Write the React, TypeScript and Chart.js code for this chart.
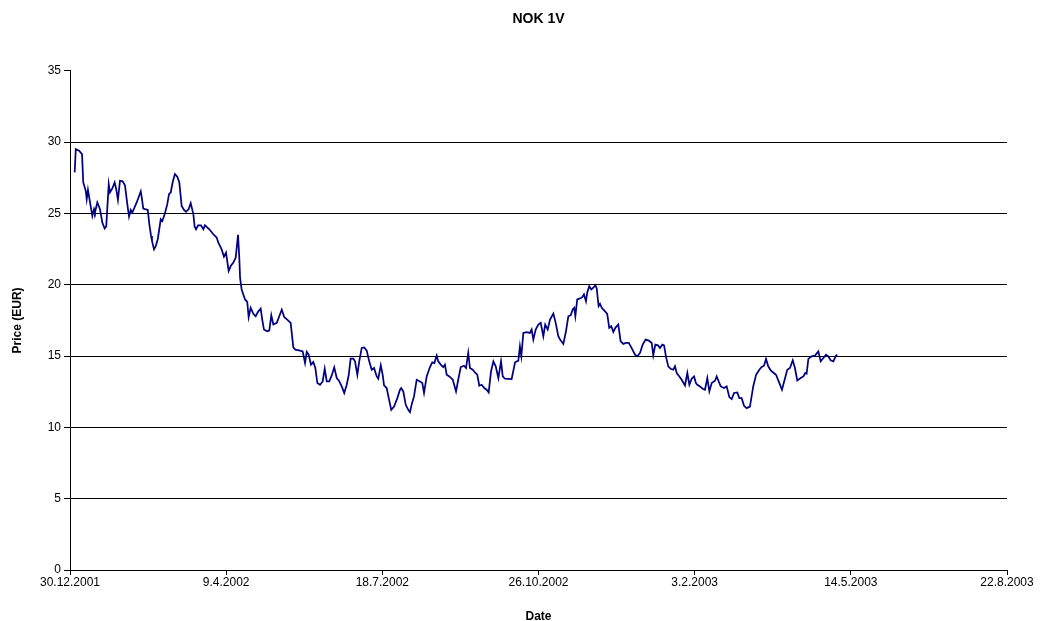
import React, { useEffect, useRef } from "react";
import { Chart, registerables } from "chart.js";

Chart.register(...registerables);

// Days elapsed since 30.12.2001
const dayOffsets = [
  3.0, 3.7, 5.8, 7.7, 8.5, 10.1, 10.7, 11.5, 12.8, 14.3,
  15.4, 16.0, 17.5, 19.2, 20.7, 22.2, 23.2, 24.8, 25.6, 27.1,
  28.6, 29.6, 30.7, 32.0, 33.7, 35.2, 36.7, 37.8, 38.9, 39.9,
  42.7, 45.3, 46.1, 46.9, 49.8, 50.8, 51.9, 52.5, 53.8, 54.9,
  56.2, 58.1, 59.1, 60.8, 62.3, 63.4, 64.5, 65.8, 67.2, 68.7,
  70.0, 71.5, 73.0, 74.3, 76.0, 77.3, 79.0, 79.8, 80.7, 82.0,
  83.9, 85.4, 86.4, 89.2, 91.8, 93.9, 95.0, 97.1, 98.6, 99.9,
  101.6, 102.9, 104.6, 106.1, 107.6, 108.4, 108.9, 109.9, 112.1, 113.5,
  114.4, 115.7, 117.4, 118.9, 120.4, 122.1, 123.1, 124.2, 126.3, 127.6,
  128.9, 130.2, 132.4, 134.0, 135.6, 137.2, 139.1, 141.3, 143.0, 144.3,
  147.3, 149.0, 150.5, 151.6, 152.8, 154.3, 155.8, 157.1, 158.4, 160.1,
  161.8, 163.1, 164.4, 166.0, 167.6, 169.2, 170.8, 172.2, 174.0, 175.6,
  177.2, 178.5, 179.7, 181.4, 182.5, 184.0, 185.2, 186.8, 188.4, 190.0,
  191.6, 193.2, 194.7, 196.4, 197.4, 199.0, 200.2, 201.1, 202.8, 204.1,
  205.7, 207.5, 209.6, 211.3, 212.1, 213.4, 215.0, 216.6, 217.7, 219.0,
  220.3, 222.0, 224.1, 225.6, 226.7, 228.4, 230.5, 232.0, 233.3, 234.8,
  235.8, 237.4, 239.0, 240.1, 241.2, 242.9, 245.1, 247.2, 248.6, 250.2,
  252.3, 253.6, 255.0, 256.1, 257.9, 259.3, 260.8, 262.1, 263.6, 265.3,
  266.8, 268.1, 269.6, 271.1, 272.6, 274.3, 276.0, 277.1, 278.5, 282.8,
  285.0, 287.1, 288.1, 289.0, 290.3, 292.4, 294.5, 295.6, 296.7, 298.2,
  299.9, 301.4, 303.1, 304.3, 305.9, 307.4, 309.5, 311.0, 312.7, 313.8,
  315.9, 317.6, 319.1, 320.6, 321.9, 322.9, 323.6, 324.8, 326.6, 328.0,
  329.1, 330.4, 331.2, 332.5, 333.8, 335.1, 336.4, 337.3, 337.9, 338.5,
  339.4, 340.5, 342.6, 344.0, 345.3, 346.6, 347.9, 349.2, 351.1, 352.6,
  354.3, 356.0, 357.8, 359.4, 361.8, 363.3, 365.0, 366.7, 368.6, 370.6,
  372.5, 373.5, 374.8, 376.5, 377.8, 379.3, 380.4, 381.6, 383.1, 384.6,
  386.3, 387.4, 388.5, 390.2, 391.7, 393.8, 395.3, 396.6, 398.1, 399.6,
  400.8, 401.7, 403.4, 405.1, 406.6, 408.1, 409.4, 410.9, 413.0, 414.1,
  415.8, 416.7, 418.8, 420.5, 422.2, 423.7, 425.2, 427.3, 428.6, 430.1,
  431.6, 433.3, 435.4, 437.5, 439.3, 441.4, 442.9, 444.4, 445.7, 447.1,
  448.7, 450.3, 452.1, 453.8, 455.9, 457.9, 459.3, 461.0, 462.8, 464.2,
  465.7, 467.9, 469.6, 470.8, 471.7, 472.8, 474.9, 477.0, 479.2, 480.7,
  482.4, 484.1, 485.6, 487.1, 488.8, 490.5, 491.3,
];

// Price (EUR)
const prices = [
  27.88, 29.51, 29.40, 29.16, 27.17, 26.58, 26.00, 26.65, 25.79, 24.82,
  25.30, 25.08, 25.77, 25.30, 24.36, 23.94, 24.08, 27.05, 26.47, 26.75,
  27.17, 26.70, 25.95, 27.29, 27.26, 26.98, 25.65, 24.78, 25.25, 25.06,
  25.77, 26.54, 26.00, 25.34, 25.25, 24.24, 23.42, 23.07, 22.48, 22.71,
  23.19, 24.59, 24.47, 25.01, 25.65, 26.35, 26.47, 27.22, 27.76, 27.57,
  27.17, 25.53, 25.25, 25.11, 25.30, 25.72, 24.94, 24.08, 23.89, 24.17,
  24.17, 23.89, 24.17, 23.89, 23.54, 23.31, 22.95, 22.48, 21.97, 22.25,
  20.96, 21.31, 21.55, 21.90, 23.50, 21.90, 20.49, 19.67, 18.97, 18.80,
  17.72, 18.38, 17.96, 17.79, 18.10, 18.33, 17.56, 16.86, 16.74, 16.79,
  17.86, 17.21, 17.33, 17.79, 18.26, 17.72, 17.56, 17.33, 15.61, 15.45,
  15.38, 15.33, 14.51, 15.29, 15.10, 14.40, 14.58, 14.16, 13.11, 12.99,
  13.22, 14.11, 13.22, 13.22, 13.64, 14.21, 13.46, 13.27, 12.87, 12.41,
  12.99, 13.69, 14.82, 14.82, 14.63, 13.69, 14.63, 15.57, 15.61, 15.38,
  14.63, 14.04, 14.16, 13.57, 13.41, 14.35, 13.69, 12.94, 12.76, 12.05,
  11.23, 11.46, 12.05, 12.64, 12.76, 12.52, 11.58, 11.23, 11.07, 11.70,
  12.17, 13.34, 13.22, 13.11, 12.41, 13.57, 14.23, 14.56, 14.51, 15.03,
  14.63, 14.40, 14.23, 14.40, 13.69, 13.57, 13.34, 12.52, 13.34, 14.23,
  14.32, 14.16, 15.22, 14.16, 14.04, 13.85, 13.69, 12.92, 12.99, 12.76,
  12.64, 12.45, 13.92, 14.63, 14.28, 13.46, 14.63, 13.57, 13.41, 13.39,
  14.56, 14.68, 15.68, 14.98, 16.62, 16.67, 16.62, 16.86, 16.15, 16.86,
  17.21, 17.33, 16.39, 17.21, 16.86, 17.56, 17.98, 17.33, 16.39, 16.15,
  15.85, 16.74, 17.79, 17.86, 18.26, 18.38, 17.79, 18.97, 19.04, 19.13,
  19.32, 18.85, 19.44, 19.90, 19.67, 19.79, 19.97, 19.74, 19.09, 18.50,
  18.66, 18.38, 18.14, 17.96, 16.98, 17.09, 16.69, 16.98, 17.21, 16.03,
  15.85, 15.92, 15.92, 15.61, 15.10, 14.98, 15.22, 15.80, 16.15, 16.08,
  15.92, 15.05, 15.80, 15.75, 15.57, 15.80, 15.75, 14.98, 14.28, 14.11,
  14.04, 14.28, 13.81, 13.57, 13.34, 12.94, 13.81, 12.99, 13.41, 13.57,
  13.11, 12.99, 12.87, 12.71, 12.64, 13.46, 12.52, 13.11, 13.27, 13.57,
  13.11, 12.87, 12.76, 12.87, 12.12, 11.98, 12.41, 12.45, 12.05, 12.05,
  11.51, 11.35, 11.46, 12.87, 13.69, 14.04, 14.23, 14.32, 14.80, 14.28,
  13.99, 13.85, 13.69, 13.22, 12.64, 13.46, 14.04, 14.16, 14.70, 14.16,
  13.29, 13.46, 13.57, 13.81, 13.76, 14.80, 14.98, 15.03, 15.33, 14.63,
  14.87, 15.10, 14.98, 14.70, 14.63, 15.03, 15.10,
];

const xTickDays = [0, 100, 200, 300, 400, 500, 600];
const yTicks = [0, 5, 10, 15, 20, 25, 30, 35];

const START_UTC = Date.UTC(2001, 11, 30);
function formatDay(v: number): string {
  const d = new Date(START_UTC + Math.round(v) * 86400000);
  return `${d.getUTCDate()}.${d.getUTCMonth() + 1}.${d.getUTCFullYear()}`;
}

const FONT = "'Liberation Sans', Arial, sans-serif";

export default function App() {
  const ref = useRef<HTMLCanvasElement | null>(null);

  useEffect(() => {
    if (!ref.current) return;
    const points = dayOffsets.map((d, i) => ({ x: d, y: prices[i] }));
    const chart = new Chart(ref.current, {
      type: "line",
      data: {
        datasets: [
          {
            label: "NOK 1V",
            data: points,
            borderColor: "#000080",
            backgroundColor: "#000080",
            borderWidth: 1.75,
            pointRadius: 0,
            tension: 0,
            fill: false,
          },
        ],
      },
      options: {
        responsive: false,
        animation: false,
        layout: { padding: { left: 0, right: 27, top: 0, bottom: 0 } },
        plugins: {
          legend: { display: false },
          tooltip: { enabled: false },
          title: {
            display: true,
            text: "NOK 1V",
            color: "#000",
            fullSize: false,
            font: { family: FONT, size: 14, weight: "bold" },
            padding: { top: 3, bottom: 43 },
          },
        },
        scales: {
          x: {
            type: "linear",
            min: 0,
            max: 600,
            afterBuildTicks: (s: any) => {
              s.ticks = xTickDays.map((v) => ({ value: v }));
            },
            afterFit: (s: any) => {
              s.height = 51;
            },
            ticks: {
              color: "#000",
              font: { family: FONT, size: 12 },
              padding: 0,
              maxRotation: 0,
              autoSkip: false,
              callback: (v: any) => formatDay(Number(v)),
            },
            grid: {
              drawOnChartArea: false,
              drawTicks: true,
              tickLength: 5,
              tickColor: "#000",
              color: "#000",
            },
            border: { display: true, color: "#000", width: 1 },
            title: {
              display: true,
              text: "Date",
              color: "#000",
              font: { family: FONT, size: 12, weight: "bold", lineHeight: 1 },
              padding: { top: 0, bottom: -2 },
            },
          },
          y: {
            type: "linear",
            min: 0,
            max: 35,
            afterBuildTicks: (s: any) => {
              s.ticks = yTicks.map((v) => ({ value: v }));
            },
            afterFit: (s: any) => {
              s.width = 62;
            },
            ticks: {
              color: "#000",
              font: { family: FONT, size: 12 },
              padding: 3,
            },
            grid: {
              drawTicks: true,
              tickLength: 6,
              tickColor: "#000",
              color: (ctx: any) =>
                ctx.tick && (ctx.tick.value === 35 || ctx.tick.value === 0)
                  ? "rgba(0,0,0,0)"
                  : "#000",
              lineWidth: 1,
            },
            border: { display: true, color: "#000", width: 1 },
            title: {
              display: true,
              text: "Price (EUR)",
              color: "#000",
              font: { family: FONT, size: 12, weight: "bold" },
              padding: { top: 2, bottom: 0 },
            },
          },
        },
      },
    });
    return () => chart.destroy();
  }, []);

  return (
    <div style={{ width: 1026, height: 613 }}>
      <canvas ref={ref} width={1026} height={613} />
    </div>
  );
}
